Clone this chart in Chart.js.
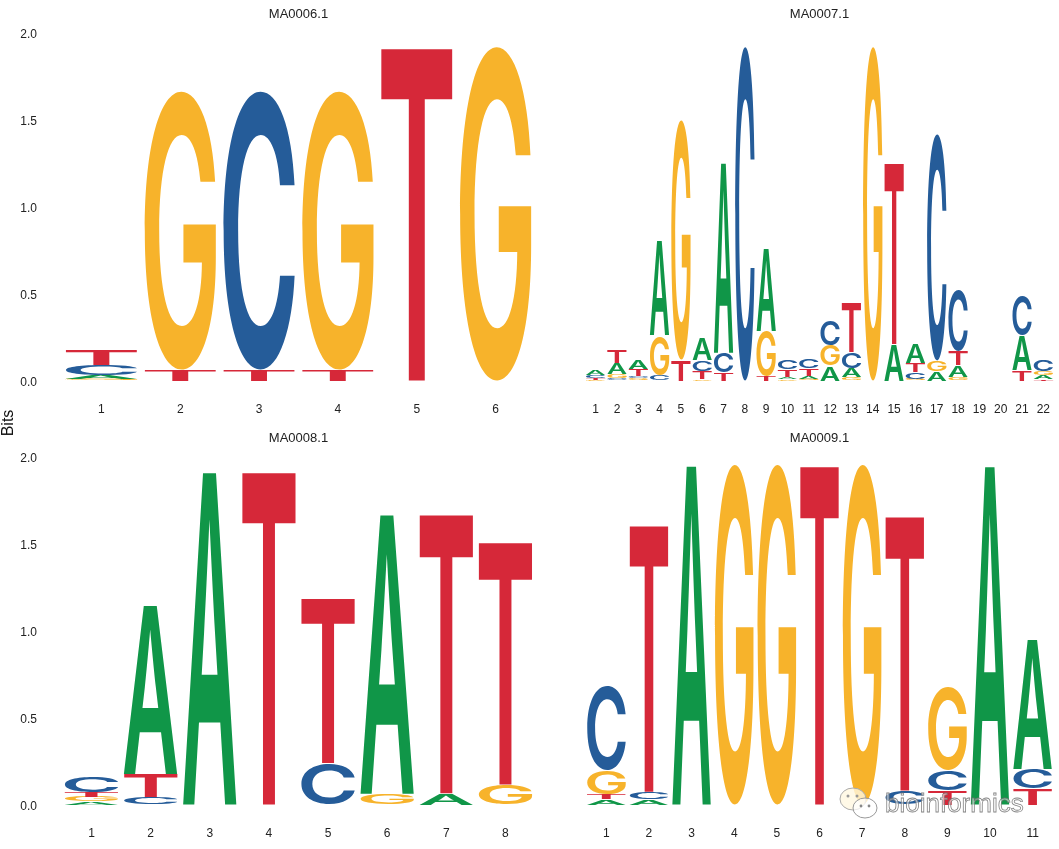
<!DOCTYPE html>
<html>
<head>
<meta charset="utf-8">
<script src="https://cdn.jsdelivr.net/npm/chart.js@4"></script>
<style>
html,body{margin:0;padding:0;background:#fff;width:1059px;height:849px;overflow:hidden;position:relative;font-family:"Liberation Sans",Arial,sans-serif}
.panel{position:absolute}
#bits{position:absolute;left:-12px;top:413px;width:40px;text-align:center;font-size:16px;line-height:20px;color:#111;transform:rotate(-90deg)}
#wm{position:absolute;left:885px;top:788px;font-size:26px;line-height:30px;color:rgba(255,255,255,.55);-webkit-text-stroke:.8px rgba(110,110,110,.85);white-space:nowrap}
#wmi{position:absolute;left:838px;top:786px}
</style>
</head>
<body>
<div class="panel" style="left:0;top:0;width:535px;height:424px"><canvas id="c1"></canvas></div>
<div class="panel" style="left:585px;top:0;width:469px;height:424px"><canvas id="c2"></canvas></div>
<div class="panel" style="left:0;top:424px;width:535px;height:424px"><canvas id="c3"></canvas></div>
<div class="panel" style="left:585px;top:424px;width:469px;height:424px"><canvas id="c4"></canvas></div>
<div id="bits">Bits</div>
<svg id="wmi" width="46" height="36" viewBox="0 0 46 36">
<ellipse cx="15" cy="13" rx="13" ry="11" fill="rgba(255,248,225,.8)" stroke="#aaa"/>
<ellipse cx="27" cy="22" rx="12" ry="10" fill="rgba(255,255,255,.75)" stroke="#999"/>
<circle cx="10" cy="10" r="1.5" fill="#999"/><circle cx="19" cy="10" r="1.5" fill="#999"/>
<circle cx="23" cy="20" r="1.4" fill="#888"/><circle cx="31" cy="20" r="1.4" fill="#888"/>
</svg>
<div id="wm">bioinformics</div>
<script>
// Each string lists a column's letters bottom to top; the matching array holds their heights in bits.
const ma0006Title = "MA0006.1";
const ma0006Letters = ["GACT","TG","TC","TG","T","G"];
const ma0006Bits = [[0.010,0.022,0.058,0.084],[0.063,1.592],[0.063,1.592],[0.063,1.592],[1.91],[1.91]];

const ma0007Title = "MA0007.1";
const ma0007Letters = ["GTCA","CGAT","GCTA","CGA","TG","GTCA","TCA","C","TGA","GATC","GATC","AGC","GACT","G","AT","GCTA","AGC","GATC","","","TAC","TAGC"];
const ma0007Bits = [
  [0.004,0.012,0.017,0.024],[0.012,0.023,0.065,0.072],[0.015,0.012,0.04,0.052],[0.03,0.23,0.545],
  [0.12,1.37],[0.006,0.05,0.06,0.125],[0.045,0.115,1.09],[1.91],[0.03,0.255,0.472],
  [0.008,0.014,0.043,0.05],[0.01,0.018,0.041,0.05],[0.085,0.12,0.14],[0.018,0.055,0.09,0.28],
  [1.91],[0.21,1.04],[0.01,0.037,0.055,0.105],[0.055,0.06,1.295],[0.022,0.065,0.085,0.345],
  [],[],[0.06,0.2,0.229],[0.008,0.022,0.026,0.063]
];

const ma0008Title = "MA0008.1";
const ma0008Letters = ["AGTC","CTA","A","T","CT","GA","AT","GT"];
const ma0008Bits = [[0.017,0.028,0.028,0.085],[0.043,0.135,0.966],[1.91],[1.91],[0.24,0.944],[0.062,1.605],[0.065,1.602],[0.115,1.391]];

const ma0009Title = "MA0009.1";
const ma0009Letters = ["ATGC","ACT","A","G","G","T","G","CT","TCG","A","TCA"];
const ma0009Bits = [[0.033,0.028,0.135,0.482],[0.033,0.04,1.53],[1.948],[1.945],[1.945],[1.945],[1.945],[0.08,1.575],[0.08,0.115,0.477],[1.945],[0.092,0.112,0.744]];

const yTicks = [0,0.5,1,1.5,2];
const letterColors = {A:"#109648",C:"#255C99",G:"#F7B32B",T:"#D62839"};
const glyphFont = '600 200px Inter';

const boxCache = {};
function glyphBox(letter){
  if(boxCache[letter]) return boxCache[letter];
  const cv = document.createElement("canvas");
  cv.width = 320; cv.height = 320;
  const c = cv.getContext("2d");
  c.font = glyphFont;
  c.textBaseline = "alphabetic";
  c.fillText(letter,50,250);
  const d = c.getImageData(0,0,320,320).data;
  let x0=320,x1=0,y0=320,y1=0;
  for(let y=0;y<320;y++)for(let x=0;x<320;x++){
    if(d[(y*320+x)*4+3]>127){
      if(x<x0)x0=x; if(x>x1)x1=x; if(y<y0)y0=y; if(y>y1)y1=y;
    }
  }
  return boxCache[letter]={ox:x0-50,oy:y0-250,w:x1-x0+1,h:y1-y0+1};
}

const logoGlyphs = {
  id:"logoGlyphs",
  afterDatasetsDraw(chart){
    const ctx = chart.ctx;
    const baseLift = 2.5;
    chart.data.datasets.forEach((ds,k)=>{
      chart.getDatasetMeta(k).data.forEach((bar,j)=>{
        const letter = ds.letters[j];
        if(!letter) return;
        const p = bar.getProps(["x","y","base","width"],true);
        const hasAbove = chart.data.datasets[k+1] && chart.data.datasets[k+1].letters[j];
        const yTop = p.y + (hasAbove ? 0.7 : 0);
        const h = Math.max(p.base - yTop, 0.8);
        const b = glyphBox(letter);
        ctx.save();
        ctx.font = glyphFont;
        ctx.textBaseline = "alphabetic";
        ctx.textAlign = "left";
        ctx.translate(p.x - p.width/2, yTop - baseLift);
        ctx.scale(p.width/b.w, h/b.h);
        ctx.fillStyle = letterColors[letter];
        ctx.fillText(letter, -b.ox, -b.oy);
        ctx.restore();
      });
    });
  }
};

function drawPanel(id,title,letters,bits,showY){
  const labels = letters.map((_,i)=>String(i+1));
  const layers = Math.max(...letters.map(s=>s.length));
  const datasets = [];
  for(let k=0;k<layers;k++){
    datasets.push({
      label:"layer "+(k+1),
      data:bits.map(b=>b[k]===undefined?null:b[k]),
      letters:letters.map(s=>s[k]||""),
      backgroundColor:"transparent",
      borderWidth:0,
      categoryPercentage:0.9,
      barPercentage:1
    });
  }
  new Chart(document.getElementById(id),{
    type:"bar",
    data:{labels,datasets},
    plugins:[logoGlyphs],
    options:{
      responsive:true,
      maintainAspectRatio:false,
      animation:false,
      layout:{padding:0,autoPadding:false},
      plugins:{
        legend:{display:false},
        tooltip:{enabled:false},
        title:{display:true,text:title,fullSize:false,color:"#222",
          font:{family:"Liberation Sans",size:13,weight:"normal",lineHeight:1.2},
          padding:{top:7,bottom:12.4}}
      },
      scales:{
        x:{
          stacked:true,
          grid:{display:false,drawTicks:false},
          border:{display:false},
          ticks:{color:"#222",padding:19.5,maxRotation:0,autoSkip:false,font:{family:"Liberation Sans",size:12}},
          afterFit(s){s.height=41;s.paddingLeft=0;s.paddingRight=0;}
        },
        y:{
          stacked:true,
          display:showY,
          min:0,max:2,
          afterBuildTicks(s){s.ticks=yTicks.map(v=>({value:v}));},
          grid:{display:false,drawTicks:false},
          border:{display:false},
          ticks:{color:"#222",padding:25,font:{family:"Liberation Sans",size:12},callback:v=>v.toFixed(1)},
          afterFit(s){s.width=showY?62:0;}
        }
      }
    }
  });
}
drawPanel("c1",ma0006Title,ma0006Letters,ma0006Bits,true);
drawPanel("c2",ma0007Title,ma0007Letters,ma0007Bits,false);
drawPanel("c3",ma0008Title,ma0008Letters,ma0008Bits,true);
drawPanel("c4",ma0009Title,ma0009Letters,ma0009Bits,false);
</script>
</body>
</html>
